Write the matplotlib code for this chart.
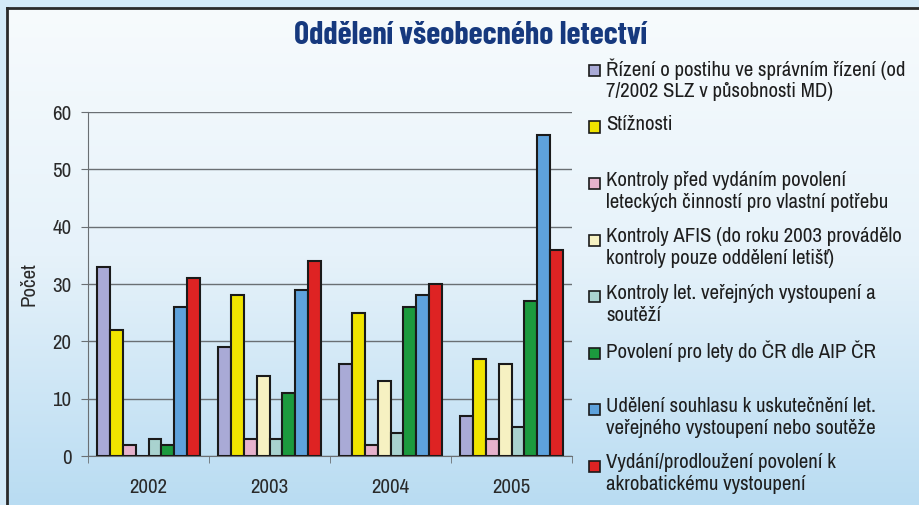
import numpy as np
import matplotlib
matplotlib.use("Agg")
import matplotlib.pyplot as plt
from matplotlib.patches import Rectangle
from matplotlib.colors import LinearSegmentedColormap

plt.rcParams['font.family'] = ['Archivo Narrow', 'Liberation Sans', 'DejaVu Sans']

years = ['2002', '2003', '2004', '2005']
series_names = [
    'Řízení o postihu ve správním řízení (od\n7/2002 SLZ v působnosti MD)',
    'Stížnosti',
    'Kontroly před vydáním povolení\nleteckých činností pro vlastní potřebu',
    'Kontroly AFIS (do roku 2003 provádělo\nkontroly pouze oddělení letišť)',
    'Kontroly let. veřejných vystoupení a\nsoutěží',
    'Povolení pro lety do ČR dle AIP ČR',
    'Udělení souhlasu k uskutečnění let.\nveřejného vystoupení nebo soutěže',
    'Vydání/prodloužení povolení k\nakrobatickému vystoupení',
]
rizeni = [33, 19, 16, 7]
stiznosti = [22, 28, 25, 17]
kontroly_pred = [2, 3, 2, 3]
kontroly_afis = [0, 14, 13, 16]
kontroly_let = [3, 3, 4, 5]
povoleni_lety = [2, 11, 26, 27]
udeleni = [26, 29, 28, 56]
vydani = [31, 34, 30, 36]
values = [rizeni, stiznosti, kontroly_pred, kontroly_afis,
          kontroly_let, povoleni_lety, udeleni, vydani]
colors = ['#a9aad6', '#f0e400', '#e6b2cc', '#f6f1c2',
          '#a9d2cf', '#1c9a3e', '#5ea2dc', '#de2323']

W, H = 919, 505
fig = plt.figure(figsize=(W / 100, H / 100), dpi=100)
fig.patch.set_facecolor('#d4eaf8')

# background panel with gradient and frame
bg = fig.add_axes([7 / W, 0, 1 - 7 / W, 1 - 8 / H])
cmap = LinearSegmentedColormap.from_list('bg', ['#f7fbfd', '#e6f2fa', '#b9dcf2'])
bg.imshow(np.linspace(0, 1, 256).reshape(-1, 1), aspect='auto', cmap=cmap,
          extent=[0, 1, 0, 1], origin='upper')
bg.set_xticks([])
bg.set_yticks([])
for side in ['right', 'bottom']:
    bg.spines[side].set_visible(False)
for side in ['left', 'top']:
    bg.spines[side].set_color('#2a2a2a')
    bg.spines[side].set_linewidth(2)

fig.text(470 / W, 1 - 35 / H, 'Oddělení všeobecného letectví', ha='center', va='center',
         fontsize=23, fontweight=700, color='#16397e',
         family=['Barlow Condensed', 'DejaVu Sans'])

ax = fig.add_axes([88 / W, 1 - 456 / H, (572 - 88) / W, (456 - 112) / H])
ax.set_facecolor('none')
x = np.arange(len(years))
bw = 0.107
for i, (vals, c) in enumerate(zip(values, colors)):
    ax.bar(x + (i - 3.5) * bw, vals, bw, color=c, edgecolor='#1a1a1a', linewidth=1.5, zorder=3)

ax.set_xlim(-0.5, 3.5)
ax.set_ylim(0, 60)
ax.set_yticks(range(0, 61, 10))
ax.yaxis.grid(True, color='#6a6f73', linewidth=1, zorder=0)
ax.set_xticks(x)
ax.set_xticklabels(years)
ax.set_xticks(np.arange(-0.5, 3.6, 1), minor=True)
ax.tick_params(axis='x', which='major', length=0, pad=16, labelsize=15, labelcolor='#2a2a2a')
ax.tick_params(axis='x', which='minor', length=5, color='#6a6f73')
ax.tick_params(axis='y', length=5, color='#6a6f73', pad=7, labelsize=15, labelcolor='#2a2a2a')
for side in ['top', 'right']:
    ax.spines[side].set_visible(False)
for side in ['left', 'bottom']:
    ax.spines[side].set_color('#6a6f73')
ax.set_ylabel('Počet', fontsize=15, color='#2a2a2a', labelpad=10)

# legend drawn manually to keep the original spacing
for i, (name, c) in enumerate(zip(series_names, colors)):
    y0 = 70 + i * 56.5
    fig.patches.append(Rectangle((589 / W, 1 - (y0 + 6) / H), 11 / W, 11 / H,
                                 transform=fig.transFigure, facecolor=c,
                                 edgecolor='#1a1a1a', linewidth=1.2))
    fig.text(606 / W, 1 - (y0 - 12) / H, name, ha='left', va='top', fontsize=15,
             color='#1e1e1e', linespacing=1.18)

fig.savefig('out.png', dpi=100)
